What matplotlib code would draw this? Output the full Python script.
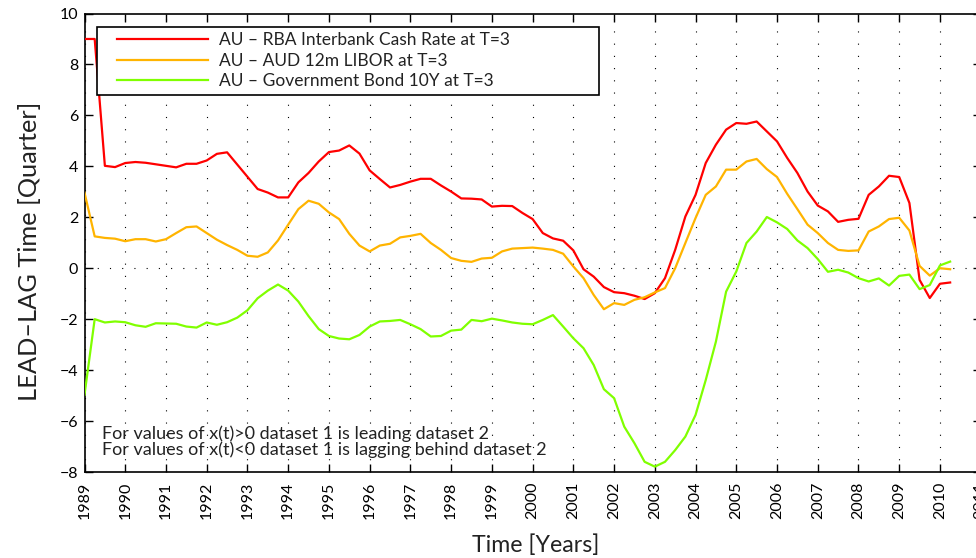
import numpy as np
import matplotlib

matplotlib.use("Agg")
import matplotlib.pyplot as plt
from matplotlib.lines import Line2D
from matplotlib.legend_handler import HandlerLine2D

plt.rcParams["font.family"] = ["Lato", "DejaVu Sans"]

# quarterly observations, 1989Q1 .. 2010Q2
quarters = np.arange(1989.0, 2010.26, 0.25)

rba_cash = [
    9.00, 9.00, 4.02, 3.97, 4.13, 4.17, 4.14, 4.08, 4.02, 3.96,
    4.10, 4.10, 4.23, 4.49, 4.55, 4.07, 3.59, 3.11, 2.97, 2.78,
    2.78, 3.37, 3.74, 4.19, 4.56, 4.62, 4.82, 4.50, 3.84, 3.50,
    3.17, 3.27, 3.40, 3.51, 3.51, 3.25, 3.01, 2.74, 2.73, 2.70,
    2.42, 2.45, 2.44, 2.17, 1.93, 1.38, 1.17, 1.08, 0.70, -0.04,
    -0.33, -0.74, -0.94, -0.98, -1.08, -1.21, -0.98, -0.39, 0.72, 2.03,
    2.88, 4.13, 4.85, 5.44, 5.70, 5.67, 5.76, 5.37, 4.98, 4.33,
    3.74, 3.01, 2.46, 2.23, 1.82, 1.90, 1.94, 2.88, 3.21, 3.63,
    3.58, 2.56, -0.46, -1.17, -0.61, -0.56,
]
aud_libor = [
    2.97, 1.25, 1.19, 1.16, 1.06, 1.14, 1.14, 1.05, 1.14, 1.38,
    1.61, 1.64, 1.38, 1.12, 0.91, 0.72, 0.49, 0.45, 0.62, 1.09,
    1.71, 2.32, 2.65, 2.53, 2.19, 1.93, 1.35, 0.89, 0.66, 0.89,
    0.96, 1.21, 1.27, 1.35, 0.99, 0.72, 0.40, 0.29, 0.25, 0.38,
    0.41, 0.66, 0.77, 0.79, 0.81, 0.77, 0.72, 0.57, 0.07, -0.39,
    -1.05, -1.61, -1.37, -1.44, -1.24, -1.14, -0.95, -0.78, 0.00, 0.99,
    1.97, 2.88, 3.21, 3.87, 3.87, 4.19, 4.29, 3.89, 3.58, 2.92,
    2.32, 1.71, 1.38, 0.99, 0.72, 0.68, 0.70, 1.44, 1.64, 1.93,
    1.98, 1.48, 0.09, -0.29, 0.00, -0.04,
]
gov_bond = [
    -4.97, -2.00, -2.13, -2.09, -2.12, -2.24, -2.30, -2.16, -2.17, -2.18,
    -2.29, -2.33, -2.13, -2.22, -2.12, -1.94, -1.65, -1.18, -0.88, -0.64,
    -0.88, -1.31, -1.88, -2.39, -2.66, -2.76, -2.79, -2.62, -2.29, -2.09,
    -2.07, -2.03, -2.20, -2.39, -2.68, -2.66, -2.45, -2.41, -2.03, -2.08,
    -1.98, -2.05, -2.13, -2.18, -2.20, -2.03, -1.84, -2.29, -2.75, -3.14,
    -3.80, -4.75, -5.10, -6.22, -6.87, -7.60, -7.79, -7.60, -7.14, -6.61,
    -5.76, -4.39, -2.88, -0.92, -0.13, 0.99, 1.44, 2.01, 1.80, 1.54,
    1.09, 0.79, 0.36, -0.14, -0.06, -0.17, -0.39, -0.52, -0.40, -0.68,
    -0.30, -0.25, -0.82, -0.66, 0.11, 0.26,
]

series_labels = [
    "AU \u2013 RBA Interbank Cash Rate at T=3",
    "AU \u2013 AUD 12m LIBOR at T=3",
    "AU \u2013 Government Bond 10Y at T=3",
]
series_colors = ["#ff0000", "#ffb400", "#80ff00"]
year_ticks = list(range(1989, 2012))
value_ticks = list(range(-8, 11, 2))

W, H = 976, 558
fig = plt.figure(figsize=(W / 100, H / 100), dpi=100)
left, right, top, bottom = 84.5, 980.7, 13.5, 472.0
ax = fig.add_axes([left / W, 1 - bottom / H, (right - left) / W, (bottom - top) / H])

for values, label, color in zip([rba_cash, aud_libor, gov_bond], series_labels, series_colors):
    ax.plot(quarters, values, color=color, lw=1.6, label=label, zorder=3)

dots = (0, (1, 10))
ax.axhline(0, color="black", lw=0.8, ls=dots, zorder=1)
for yr in year_ticks:
    ax.axvline(yr, color="black", lw=0.8, ls=dots, zorder=1)

ax.set_xlim(1989, 2011)
ax.set_ylim(-8, 10)
ax.set_xticks(year_ticks)
ax.set_xticklabels([str(y) for y in year_ticks], rotation=90, fontsize=11.5)
ax.set_yticks(value_ticks)
ax.tick_params(axis="y", labelsize=11.5, pad=4.5)
ax.tick_params(axis="x", pad=7)
ax.tick_params(direction="in", length=6, width=1, top=True, right=True, colors="black")
for sp in ax.spines.values():
    sp.set_linewidth(1.2)

ax.set_xlabel("Time [Years]", fontsize=16.7, color="#222222")
ax.xaxis.set_label_coords(0.503, -0.136)
ax.set_ylabel("LEAD\u2013LAG Time [Quarter]", fontsize=18.3, color="#222222")
ax.yaxis.set_label_coords(-0.0485, 0.482)

ax.text(
    0.0195, 0.03,
    "For values of x(t)>0 dataset 1 is leading dataset 2\n"
    "For values of x(t)<0 dataset 1 is lagging behind dataset 2",
    transform=ax.transAxes, fontsize=13, color="#222222",
    linespacing=0.95, va="bottom", ha="left",
)

leg = ax.legend(
    loc="upper left",
    bbox_to_anchor=(0.0136, 0.0, 0.5608, 0.9712),
    mode="expand",
    borderaxespad=0,
    fontsize=12.5,
    handlelength=6.95,
    handletextpad=-0.2,
    borderpad=0.32,
    labelspacing=0.26,
    fancybox=False,
    framealpha=1,
    edgecolor="black",
    handler_map={Line2D: HandlerLine2D(marker_pad=0.85, numpoints=2)},
)
leg.get_frame().set_linewidth(1.2)
for t in leg.get_texts():
    t.set_color("#222222")

fig.savefig("out.png", dpi=100)
